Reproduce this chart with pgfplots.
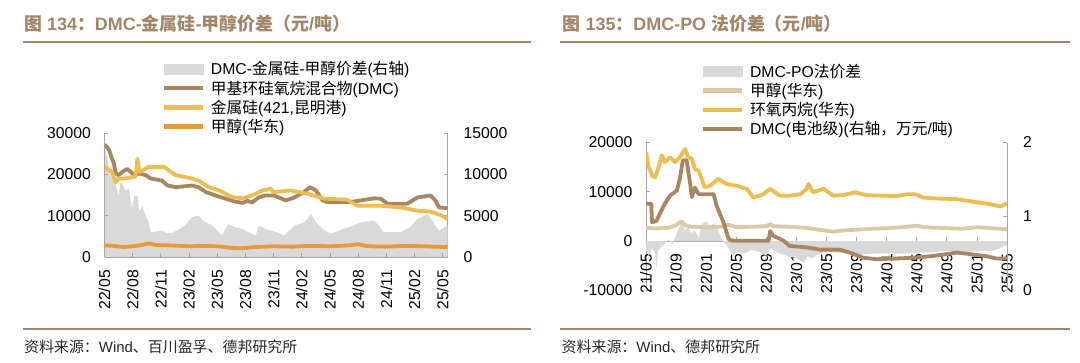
\documentclass[border=0pt]{standalone}
\usepackage{pgfplots}
\pgfplotsset{compat=1.18}
\usepackage{fontspec}
\setmainfont{Liberation Sans}
\newfontfamily\cjk{Noto Sans CJK SC}
\newcommand\C[1]{{\cjk #1}}
\definecolor{ttl}{RGB}{163,134,104}
\definecolor{dmcbrown}{RGB}{167,134,96}
\definecolor{siyel}{RGB}{238,189,77}
\definecolor{meor}{RGB}{236,152,54}
\definecolor{metan}{RGB}{218,201,162}
\definecolor{areag}{RGB}{217,217,217}
\definecolor{axg}{RGB}{166,166,166}
\definecolor{src}{RGB}{40,40,40}
\pgfplotsset{
  base/.style={scale only axis, enlargelimits=false, scaled y ticks=false, scaled x ticks=false,
    tick align=inside, major tick length=4bp,
    tick style={axg, line width=0.8bp},
    axis line style={axg, line width=0.8bp},
    tick label style={font=\fontsize{15.8}{16}\selectfont, inner sep=0pt},
  },
  ln/.style={line width=3.8bp, line join=round},
  legline/.style={legend image code/.code={\draw[#1, line width=4.5bp] (0bp,0bp) -- (38.5bp,0bp);}},
  legarea/.style={legend image code/.code={\fill[#1] (0bp,-5bp) rectangle (38.5bp,5bp);}},
  legst/.style={legend style={draw=none, fill=none, inner sep=0pt, outer sep=0pt,
    row sep=4.8bp, column sep=6bp, anchor=north west,
    font=\fontsize{15.8}{16}\selectfont,
    nodes={inner sep=0pt, text height=13bp, text depth=1.4bp}},
    legend cell align=left},
}
\begin{document}
\begin{tikzpicture}
\useasboundingbox (0,0) rectangle (1080bp,-363bp);
% ---------- headers and footers ----------
\node[anchor=base west, inner sep=0, text=ttl, font=\fontsize{18}{18}\selectfont\bfseries] at (24bp,-30.7bp)
  {\C{图} 134\C{：}DMC-\C{金属硅}-\C{甲醇价差（元}/\C{吨）}};
\node[anchor=base west, inner sep=0, text=ttl, font=\fontsize{18}{18}\selectfont\bfseries] at (562.5bp,-30.7bp)
  {\C{图} 135\C{：}DMC-PO \C{法价差（元}/\C{吨）}};
\draw[ttl, line width=2bp] (22.5bp,-42.2bp) -- (531bp,-42.2bp);
\draw[ttl, line width=2bp] (560bp,-42.2bp) -- (1070bp,-42.2bp);
\draw[ttl, line width=2bp] (22.5bp,-328.5bp) -- (531bp,-328.5bp);
\draw[ttl, line width=2bp] (560bp,-328.5bp) -- (1070bp,-328.5bp);
\node[anchor=base west, inner sep=0, text=src, font=\fontsize{15}{15}\selectfont] at (24bp,-352.5bp)
  {\C{资料来源：}Wind\C{、百川盈孚、德邦研究所}};
\node[anchor=base west, inner sep=0, text=src, font=\fontsize{15}{15}\selectfont] at (561.5bp,-352.5bp)
  {\C{资料来源：}Wind\C{、德邦研究所}};

% ---------- left chart: area on right axis ----------
\begin{axis}[base, at={(104.5bp,-257bp)}, anchor=south west, width=343bp, height=124bp,
  xmin=0, xmax=36.5, ymin=0, ymax=15000, axis x line=none, axis y line*=right,
  ytick={0,5000,10000,15000}, yticklabels={0,5000,10000,15000}, yticklabel shift=16bp]
\addplot[fill=areag, draw=none] coordinates {
(0,0) (0,13100) (0.3,12100) (0.5,10500) (0.6,9900) (0.8,10900) (1.0,9500) (1.2,8700) (1.5,7400)
(1.7,9000) (1.9,8900) (2.2,8000) (2.6,8300) (2.9,5800) (3.2,7400) (3.5,7400) (3.7,5400)
(4.0,6200) (4.4,5000) (4.7,4200) (4.9,3000) (5.5,3100) (6.1,3200) (6.6,2900) (7.2,2900)
(8.0,3400) (8.6,3800) (9.0,4400) (9.3,4800) (10.0,5000) (10.4,4500) (10.8,4200) (11.5,3800)
(12.0,3200) (12.5,2600) (13.2,4000) (13.9,3600) (14.7,3400) (15.3,3000) (16.1,2600) (16.4,3800)
(17.1,3400) (17.7,3200) (18.3,3000) (19.1,2600) (20.2,3800) (21.2,4200) (21.6,4600) (21.9,5200)
(22.2,4800) (22.5,4200) (23.2,3400) (24.1,2800) (25.5,3400) (26.5,3800) (27.3,4200) (28.7,4400)
(29.2,3800) (29.7,3000) (31.5,3000) (32.5,3600) (33.3,4600) (34.4,5200) (35.1,4000) (35.6,3200)
(36.5,3800) (36.5,0)};
\end{axis}
% ---------- left chart: lines on left axis ----------
\begin{axis}[base, legst, at={(104.5bp,-257bp)}, anchor=south west, width=343bp, height=124bp,
  xmin=0, xmax=36.5, ymin=0, ymax=30000, axis x line*=bottom, axis y line*=left,
  xtick={0,3,...,36},
  xticklabels={22/05,22/08,22/11,23/02,23/05,23/08,23/11,24/02,24/05,24/08,24/11,25/02,25/05},
  xticklabel style={rotate=90, anchor=east}, xticklabel shift=13bp,
  ytick={0,10000,20000,30000}, yticklabels={0,10000,20000,30000}, yticklabel shift=13.5bp,
  legend style={at={(0.1676,1.5742)}}]
\addlegendimage{legarea=areag}
\addlegendentry{DMC-\C{金属硅}-\C{甲醇价差}(\C{右轴})}
\addplot[ln, dmcbrown, legline=dmcbrown] coordinates {
(0,27200) (0.3,26500) (0.5,25800) (0.8,23800) (1.0,22600) (1.2,20200) (1.5,19800) (1.9,20600)
(2.4,21300) (2.8,20600) (3.1,19800) (3.7,20200) (4.4,19800) (4.9,19000) (6.1,18500) (6.7,17300)
(7.6,16900) (9.3,17300) (10.0,16900) (10.8,15700) (11.8,14900) (12.9,14100) (13.9,13400)
(14.7,13100) (15.2,13600) (15.7,13200) (16.4,14400) (17.1,14900) (18.0,14900) (19.3,13700)
(20.2,14400) (21.2,15700) (21.9,16900) (22.5,16100) (23.2,13700) (23.7,13300) (26.2,13300)
(27.3,13700) (28.7,14200) (29.4,14100) (30.1,12900) (32.2,12900) (33.3,14400) (34.7,14900)
(35.2,13700) (35.6,12000) (36.5,11800)};
\addlegendentry{\C{甲基环硅氧烷混合物}(DMC)}
\addplot[ln, siyel, legline=siyel] coordinates {
(0,21800) (0.8,20600) (1.2,18100) (1.5,19000) (2.2,19000) (2.9,19300) (3.3,19500) (3.5,23800)
(3.7,20600) (4.1,21000) (4.7,21800) (6.3,21800) (7.6,19800) (9.3,19000) (10.0,18500)
(11.1,16900) (12.2,16100) (13.6,14500) (14.7,14200) (15.7,14900) (16.8,16100) (17.7,16500)
(18.0,15700) (19.8,16100) (21.6,15300) (23.4,14100) (25.8,13900) (26.9,12400) (29.4,12400)
(31.5,12000) (33.3,11200) (34.7,11000) (35.9,10000) (36.5,9200)};
\addlegendentry{\C{金属硅}(421,\C{昆明港})}
\addplot[ln, meor, legline=meor] coordinates {
(0,2800) (1,2700) (2,2400) (3,2600) (4,2900) (4.7,3300) (5.5,2900) (7,2800) (9,2600) (11,2700)
(12.5,2500) (13.5,2200) (14.5,2100) (16,2400) (18,2600) (20,2500) (22,2700) (24,2600) (26,2800)
(27,3100) (28,2600) (30,2500) (32,2700) (34,2600) (35,2500) (36.5,2400)};
\addlegendentry{\C{甲醇}(\C{华东})}
\end{axis}

% ---------- right chart: left axis ----------
\begin{axis}[base, at={(646bp,-290.25bp)}, anchor=south west, width=361bp, height=147.75bp,
  xmin=0, xmax=48, ymin=-10000, ymax=20000, axis x line*=bottom, axis x line shift=-49.25bp,
  axis y line*=left,
  xtick={0,4,...,48},
  xticklabels={21/05,21/09,22/01,22/05,22/09,23/01,23/05,23/09,24/01,24/05,24/09,25/01,25/05},
  xticklabel style={rotate=90, anchor=east}, xticklabel shift=13bp,
  ytick={-10000,0,10000,20000}, yticklabels={-10000,0,10000,20000}, yticklabel shift=13.5bp]
\addplot[fill=areag, draw=none] coordinates {
(0,0) (0,-2000) (0.4,-3000) (0.8,-1500) (1.2,-2500) (1.4,-5500) (1.6,-2000) (2.0,-1200)
(2.5,-600) (3.0,300) (3.5,-800) (4.0,1200) (4.5,3000) (4.8,4200) (5.2,2000) (5.6,3200)
(6.0,1500) (6.5,2200) (7.0,600) (7.5,3500) (8.0,4000) (8.5,3000) (9.0,3600) (9.5,2500)
(10.0,600) (10.5,-500) (11.0,-1500) (11.5,-3000) (12,-2200) (13,-2600) (14,-1800) (15,-2200)
(16,-3000) (16.5,-1500) (17,-2000) (18,-2600) (19,-3200) (20,-3500) (21,-4500) (21.5,-3000)
(22,-3600) (23,-2600) (24,-2200) (26,-2400) (28,-2800) (30,-2600) (32,-2500) (34,-2600)
(36,-2400) (38,-2300) (40,-2000) (42,-2200) (44,-2100) (46,-2000) (47,-1500) (48,-800) (48,0)};
\addplot[ln, metan] coordinates {
(0,2700) (1,2600) (2,2600) (3,2700) (4,3200) (4.7,4000) (5.3,3200) (6,2900) (8,2800) (10,2900)
(11,3300) (12,2800) (14,2900) (16,3000) (16.5,3400) (17,3000) (19,2900) (21,2700) (23,2300)
(24.9,1900) (26,2100) (28,2300) (30,2500) (32,2600) (34,2800) (36,3100) (37,2800) (40,2600)
(42,2500) (44,2800) (46,2600) (48,2400)};
\addplot[ln, siyel] coordinates {
(0,18000) (0.3,15300) (0.8,13300) (1.2,12900) (1.6,14600) (2.1,17400) (2.5,16000) (3.2,17000)
(3.9,16000) (4.5,17000) (5.2,18700) (5.6,17000) (6.1,16700) (6.5,14600) (7.0,14300) (7.4,12600)
(7.8,10900) (8.5,11200) (9.6,12600) (10.7,11600) (12.1,11200) (13.4,10600) (14.3,8800)
(15.6,9500) (16.5,10600) (17.8,9200) (19.1,9200) (20.5,9500) (21.3,10500) (21.6,11600)
(22.2,9900) (23.6,10600) (24.9,9200) (26.2,9300) (27.8,9900) (29.3,9300) (31.6,9200) (33.3,9100)
(34.7,9500) (35.8,9500) (36.9,8800) (39.1,8600) (41.3,8500) (43.5,8000) (45.7,7500) (47.1,7000)
(48,7700)};
\end{axis}
% ---------- right chart: right axis ----------
\begin{axis}[base, legst, at={(646bp,-290.25bp)}, anchor=south west, width=361bp, height=147.75bp,
  xmin=0, xmax=48, ymin=0, ymax=2, axis x line=none, axis y line*=right,
  ytick={0,1,2}, yticklabels={0,1,2}, yticklabel shift=16bp,
  legend style={at={(0.1524,1.5293)}}]
\addlegendimage{legarea=areag}
\addlegendentry{DMC-PO\C{法价差}}
\addlegendimage{legline=metan}
\addlegendentry{\C{甲醇}(\C{华东})}
\addlegendimage{legline=siyel}
\addlegendentry{\C{环氧丙烷}(\C{华东})}
\addplot[ln, dmcbrown, legline=dmcbrown] coordinates {
(0,1.17) (0.7,1.17) (0.8,0.92) (1.4,0.94) (1.9,1.05) (2.5,1.17) (3.2,1.28) (4.1,1.35) (4.5,1.51)
(4.9,1.76) (5.4,1.76) (5.9,1.42) (6.1,1.26) (6.5,1.39) (7.0,1.30) (9.0,1.30) (9.4,1.14)
(10.3,0.92) (11.0,0.69) (11.6,0.67) (16.3,0.67) (16.5,0.80) (16.9,0.74) (18.3,0.67) (19.1,0.60)
(21.4,0.58) (23.1,0.55) (24.5,0.55) (25.8,0.55) (27.1,0.51) (28.9,0.44) (30.7,0.42) (33.3,0.43)
(35.5,0.44) (37.8,0.46) (40,0.49) (41.3,0.51) (43.1,0.49) (45.3,0.46) (46.6,0.43) (48,0.43)};
\addlegendentry{DMC(\C{电池级})(\C{右轴，万元}/\C{吨})}
\end{axis}
\end{tikzpicture}
\end{document}
